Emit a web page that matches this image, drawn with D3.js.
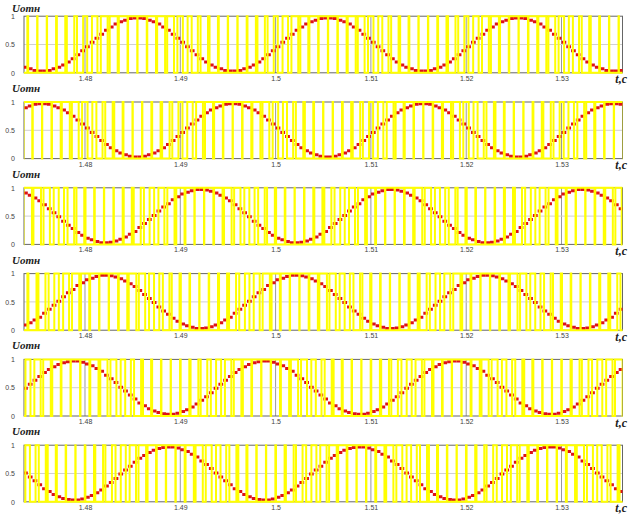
<!DOCTYPE html>
<html><head><meta charset="utf-8">
<script src="https://cdn.jsdelivr.net/npm/d3@7"></script>
<style>body{margin:0;background:#fff;} svg{display:block}</style>
</head><body>
<script>
// ---- data ----
const xTicks = [1.48, 1.49, 1.5, 1.51, 1.52, 1.53];
const xTickLabels = ["1.48", "1.49", "1.5", "1.51", "1.52", "1.53"];
const yTicks = [0, 0.5, 1];
const yTickLabels = ["0", "0.5", "1"];
const xDomain = [1.4736, 1.5364];
const tStart = 1.4730;      // first sample start, s
const dt = 0.0005;          // sample step, s (carrier period = 2 samples)
const yLabel = "Uотн";
const xLabel = "t,c";

const u1 = [.14,.10,.07,.04,.03,.03,.04,.07,.10,.14,.19,.25,.32,.39,.46,.54,.61,.68,.75,.81,.86,.90,.93,.96,.97,
 .97,.96,.93,.90,.86,.81,.75,.68,.61,.54,.46,.39,.32,.25,.19,.14,.10,.07,.04,.03,.03,.04,.07,.10,.14,.19,.25,.32,.39,.46,.54,.61,.68,.75,.81,.86,.90,.93,.96,.97,
 .97,.96,.93,.90,.86,.81,.75,.68,.61,.54,.46,.39,.32,.25,.19,.14,.10,.07,.04,.03,.03,.04,.07,.10,.14,.19,.25,.32,.39,.46,.54,.61,.68,.75,.81,.86,.90,.93,.96,.97,
 .97,.96,.93,.90,.86,.81,.75,.68,.61,.54,.46,.39,.32,.25,.19,.14,.10,.07,.04,.03,.03,.04];
const u2 = [.86,.90,.93,.96,.97,
 .97,.96,.93,.90,.86,.81,.75,.68,.61,.54,.46,.39,.32,.25,.19,.14,.10,.07,.04,.03,.03,.04,.07,.10,.14,.19,.25,.32,.39,.46,.54,.61,.68,.75,.81,.86,.90,.93,.96,.97,
 .97,.96,.93,.90,.86,.81,.75,.68,.61,.54,.46,.39,.32,.25,.19,.14,.10,.07,.04,.03,.03,.04,.07,.10,.14,.19,.25,.32,.39,.46,.54,.61,.68,.75,.81,.86,.90,.93,.96,.97,
 .97,.96,.93,.90,.86,.81,.75,.68,.61,.54,.46,.39,.32,.25,.19,.14,.10,.07,.04,.03,.03,.04,.07,.10,.14,.19,.25,.32,.39,.46,.54,.61,.68,.75,.81,.86,.90,.93,.96,.97,
 .97,.96];
const u3 = [.94,.91,.87,.82,.77,.70,.63,.56,.49,.41,.34,.28,.21,.16,.11,.08,.05,.03,.03,.04,.06,.09,.13,.18,.23,.30,.37,.44,.51,.59,.66,.72,.79,.84,.89,.92,.95,.97,
 .97,.96,.94,.91,.87,.82,.77,.70,.63,.56,.49,.41,.34,.28,.21,.16,.11,.08,.05,.03,.03,.04,.06,.09,.13,.18,.23,.30,.37,.44,.51,.59,.66,.72,.79,.84,.89,.92,.95,.97,
 .97,.96,.94,.91,.87,.82,.77,.70,.63,.56,.49,.41,.34,.28,.21,.16,.11,.08,.05,.03,.03,.04,.06,.09,.13,.18,.23,.30,.37,.44,.51,.59,.66,.72,.79,.84,.89,.92,.95,.97,
 .97,.96,.94,.91,.87,.82,.77,.70,.63];
const u4 = [.06,.09,.13,.18,.23,.30,.37,.44,.51,.59,.66,.72,.79,.84,.89,.92,.95,.97,
 .97,.96,.94,.91,.87,.82,.77,.70,.63,.56,.49,.41,.34,.28,.21,.16,.11,.08,.05,.03,.03,.04,.06,.09,.13,.18,.23,.30,.37,.44,.51,.59,.66,.72,.79,.84,.89,.92,.95,.97,
 .97,.96,.94,.91,.87,.82,.77,.70,.63,.56,.49,.41,.34,.28,.21,.16,.11,.08,.05,.03,.03,.04,.06,.09,.13,.18,.23,.30,.37,.44,.51,.59,.66,.72,.79,.84,.89,.92,.95,.97,
 .97,.96,.94,.91,.87,.82,.77,.70,.63,.56,.49,.41,.34,.28,.21,.16,.11,.08,.05,.03,.03,.04,.06,.09,.13,.18,.23,.30,.37];
const u5 = [.41,.49,.56,.63,.70,.77,.82,.87,.91,.94,.96,.97,
 .97,.95,.92,.89,.84,.79,.72,.66,.59,.51,.44,.37,.30,.23,.18,.13,.09,.06,.04,.03,.03,.05,.08,.11,.16,.21,.28,.34,.41,.49,.56,.63,.70,.77,.82,.87,.91,.94,.96,.97,
 .97,.95,.92,.89,.84,.79,.72,.66,.59,.51,.44,.37,.30,.23,.18,.13,.09,.06,.04,.03,.03,.05,.08,.11,.16,.21,.28,.34,.41,.49,.56,.63,.70,.77,.82,.87,.91,.94,.96,.97,
 .97,.95,.92,.89,.84,.79,.72,.66,.59,.51,.44,.37,.30,.23,.18,.13,.09,.06,.04,.03,.03,.05,.08,.11,.16,.21,.28,.34,.41,.49,.56,.63,.70,.77,.82];
const u6 = [.59,.51,.44,.37,.30,.23,.18,.13,.09,.06,.04,.03,.03,.05,.08,.11,.16,.21,.28,.34,.41,.49,.56,.63,.70,.77,.82,.87,.91,.94,.96,.97,
 .97,.95,.92,.89,.84,.79,.72,.66,.59,.51,.44,.37,.30,.23,.18,.13,.09,.06,.04,.03,.03,.05,.08,.11,.16,.21,.28,.34,.41,.49,.56,.63,.70,.77,.82,.87,.91,.94,.96,.97,
 .97,.95,.92,.89,.84,.79,.72,.66,.59,.51,.44,.37,.30,.23,.18,.13,.09,.06,.04,.03,.03,.05,.08,.11,.16,.21,.28,.34,.41,.49,.56,.63,.70,.77,.82,.87,.91,.94,.96,.97,
 .97,.95,.92,.89,.84,.79,.72,.66,.59,.51,.44,.37,.30,.23,.18];
const panels = [u1, u2, u3, u4, u5, u6];

// ---- layout ----
const W = 629, H = 515;
const left = 24, right = 622.5;
const top0 = 16.2, step = 85.8, ph = 56.6;
const yellow = "#ffff00", red = "#dc1218";

const svg = d3.select("body").append("svg").attr("width", W).attr("height", H);
const x = d3.scaleLinear().domain(xDomain).range([left, right]);

panels.forEach((u, i) => {
  const top = top0 + i * step, bottom = top + ph;
  const y = d3.scaleLinear().domain([0, 1]).range([bottom, top]);
  const g = svg.append("g");
  const cid = "clip" + i;
  svg.append("clipPath").attr("id", cid).append("rect")
    .attr("x", left).attr("y", top - 3).attr("width", right - left).attr("height", ph + 6);

  // grid
  g.append("g").selectAll("line").data(xTicks).join("line")
    .attr("x1", d => x(d)).attr("x2", d => x(d)).attr("y1", top).attr("y2", bottom)
    .attr("stroke", "#9a9a9a").attr("stroke-width", 1);
  g.append("line").attr("x1", left).attr("x2", right).attr("y1", y(0.5)).attr("y2", y(0.5))
    .attr("stroke", "#d0d0d0").attr("stroke-width", 1);
  // frame
  g.append("rect").attr("x", left).attr("y", top).attr("width", right - left).attr("height", ph)
    .attr("fill", "none").attr("stroke", "#666").attr("stroke-width", 1);

  // red sampled reference (horizontal steps)
  g.append("g").attr("clip-path", `url(#${cid})`).selectAll("line").data(u).join("line")
    .attr("x1", (v, k) => x(tStart + k * dt)).attr("x2", (v, k) => x(tStart + (k + 1) * dt))
    .attr("y1", v => y(v)).attr("y2", v => y(v))
    .attr("stroke", red).attr("stroke-width", 3);

  // yellow PWM: triangular carrier (period 2*dt) compared with the samples
  const pts = [[tStart, 1]];
  for (let m = 0; 2 * m < u.length; m++) {
    const a = u[2 * m], b = (2 * m + 1 < u.length) ? u[2 * m + 1] : a;
    const T0 = tStart + 2 * m * dt;
    const fall = T0 + a * dt, rise = T0 + dt + (1 - b) * dt;
    pts.push([fall, 1], [fall, 0], [rise, 0], [rise, 1]);
  }
  pts.push([tStart + u.length * dt, 1]);
  g.append("path").attr("clip-path", `url(#${cid})`)
    .attr("d", d3.line().x(d => x(d[0])).y(d => y(d[1]))(pts))
    .attr("fill", "none").attr("stroke", yellow).attr("stroke-width", 2)
    .attr("stroke-linejoin", "miter");

  // axes labels
  const xa = d3.axisBottom(x).tickValues(xTicks).tickFormat((d, j) => xTickLabels[j]).tickSize(0).tickPadding(3);
  const ax = g.append("g").attr("transform", `translate(0,${bottom})`).call(xa);
  ax.select(".domain").remove();
  ax.selectAll("text").attr("font-family", "Liberation Sans, Arial, sans-serif").attr("font-size", 7).attr("fill", "#444");
  const ya = d3.axisLeft(y).tickValues(yTicks).tickFormat((d, j) => yTickLabels[j]).tickSize(0).tickPadding(9);
  const ay = g.append("g").attr("transform", `translate(${left},0)`).call(ya);
  ay.select(".domain").remove();
  ay.selectAll("text").attr("font-family", "Liberation Sans, Arial, sans-serif").attr("font-size", 7).attr("fill", "#444");

  // titles
  g.append("text").attr("x", 12).attr("y", i === 0 ? 11.5 : top - 10)
    .attr("font-family", "Liberation Serif, Times New Roman, serif").attr("font-style", "italic")
    .attr("font-weight", "bold").attr("font-size", 11).attr("fill", "#222").text(yLabel);
  g.append("text").attr("x", 627).attr("y", bottom + 10.5).attr("text-anchor", "end")
    .attr("font-family", "Liberation Serif, Times New Roman, serif").attr("font-style", "italic")
    .attr("font-weight", "bold").attr("font-size", 12).attr("fill", "#222").text(xLabel);
});
</script>
</body></html>
